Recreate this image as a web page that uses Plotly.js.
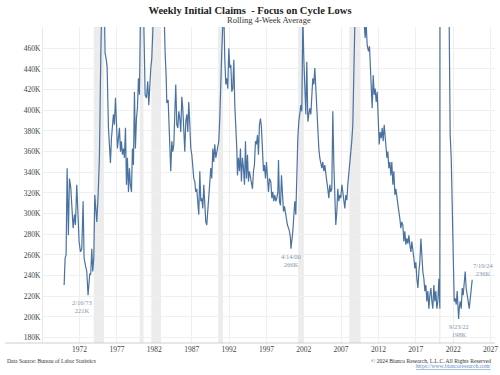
<!DOCTYPE html>
<html>
<head>
<meta charset="utf-8">
<script src="https://cdn.plot.ly/plotly-3.0.1.min.js"></script>
<style>html,body{margin:0;padding:0;background:#fff;}#chart{width:500px;height:375px;}</style>
</head>
<body>
<div id="chart"></div>
<script>
// Decimal-year dates and 4-week average initial claims (thousands)
const years = [
1969.93,1970.06,1970.19,1970.33,1970.50,1970.64,1970.82,1970.95,1971.13,1971.31,1971.44,1971.62,1971.75,1971.93,
1972.11,1972.29,1972.47,1972.60,1972.78,1972.96,1973.13,1973.23,1973.36,1973.49,1973.63,1973.76,1973.90,
1974.03,1974.16,1974.30,1974.48,1974.65,1974.83,1974.92,1975.06,1975.24,1975.41,1975.55,1975.68,1975.86,1975.99,
1976.13,1976.26,1976.40,1976.53,1976.66,1976.80,1976.93,1977.06,1977.20,1977.33,1977.47,1977.60,1977.73,1977.87,
1978.00,1978.14,1978.27,1978.40,1978.54,1978.67,1978.80,1978.94,1979.07,1979.21,1979.34,1979.47,1979.61,1979.74,1979.88,
1980.01,1980.14,1980.32,1980.50,1980.63,1980.77,1980.95,1981.12,1981.26,1981.39,1981.53,1981.66,1981.79,
1982.10,1982.40,1982.80,1983.10,1983.31,1983.45,1983.58,1983.67,1983.85,
1984.03,1984.20,1984.34,1984.47,1984.61,1984.74,1984.87,1985.01,1985.14,1985.28,1985.41,1985.54,1985.68,1985.81,1985.94,
1986.08,1986.21,1986.35,1986.48,1986.61,1986.75,1986.88,1987.02,1987.15,1987.28,1987.42,1987.55,1987.68,1987.82,1987.95,
1988.09,1988.22,1988.35,1988.49,1988.62,1988.76,1988.89,1989.02,1989.16,1989.29,1989.42,1989.56,1989.69,1989.83,1989.96,
1990.09,1990.23,1990.36,1990.50,1990.63,1990.76,1990.90,1991.03,1991.17,1991.30,1991.43,1991.57,1991.70,1991.83,1991.97,
1992.10,1992.24,1992.37,1992.50,1992.64,1992.77,1992.91,1993.04,1993.13,1993.26,1993.40,1993.53,1993.66,1993.80,1993.93,
1994.07,1994.20,1994.33,1994.47,1994.60,1994.73,1994.87,1995.00,1995.14,1995.27,1995.40,1995.54,1995.67,1995.81,1995.94,
1996.07,1996.21,1996.34,1996.47,1996.61,1996.74,1996.88,1997.01,1997.14,1997.28,1997.41,1997.59,1997.73,1997.86,1997.99,
1998.13,1998.26,1998.40,1998.53,1998.62,1998.75,1998.89,1999.02,1999.15,1999.29,1999.42,1999.56,1999.69,1999.82,1999.96,
2000.09,2000.22,2000.29,2000.54,2000.67,2000.80,2000.94,2001.07,2001.21,2001.34,2001.47,2001.61,2001.74,2001.88,
2002.01,2002.14,2002.28,2002.41,2002.55,2002.68,2002.81,2002.95,2003.08,2003.21,2003.35,2003.48,2003.62,2003.75,2003.88,
2004.02,2004.15,2004.29,2004.42,2004.55,2004.69,2004.82,2004.95,2005.09,2005.22,2005.36,2005.49,2005.62,2005.76,2005.89,
2006.03,2006.16,2006.29,2006.43,2006.56,2006.69,2006.83,2006.96,2007.10,2007.23,2007.36,2007.50,2007.63,2007.77,2007.90,
2008.03,2008.17,2008.30,2008.43,2008.57,2008.70,2008.84,2009.10,2009.30,2009.60,2009.90,
2010.04,2010.22,2010.35,2010.49,2010.67,2010.80,2010.89,2011.03,2011.16,2011.30,2011.43,2011.56,2011.70,2011.83,2011.97,
2012.10,2012.23,2012.37,2012.50,2012.63,2012.77,2012.90,2012.99,2013.13,2013.26,2013.39,2013.53,2013.66,2013.79,2013.93,
2014.06,2014.20,2014.33,2014.46,2014.60,2014.73,2014.87,2015.00,2015.13,2015.27,2015.40,2015.53,2015.67,2015.80,2015.94,
2016.07,2016.20,2016.34,2016.47,2016.61,2016.74,2016.87,2017.01,2017.14,2017.28,2017.41,2017.54,2017.68,2017.81,2017.94,
2018.08,2018.21,2018.35,2018.48,2018.61,2018.75,2018.88,2019.02,2019.15,2019.28,2019.42,2019.55,2019.68,2019.82,2019.95,
2020.09,2020.22,2020.28,2020.40,2020.70,2021.00,2021.30,2021.46,2021.60,2021.74,2021.87,
2022.00,2022.14,2022.27,2022.41,2022.54,2022.73,2022.81,2022.94,2023.08,2023.21,2023.34,2023.48,2023.61,2023.74,2023.88,
2024.01,2024.15,2024.28,2024.41,2024.55
];
const claims = [
231,257,260,344,279,334,325,308,286,299,289,328,302,273,
263,266,312,257,250,244,221,234,242,241,266,244,257,
318,305,292,318,354,450,500,540,530,455,450,442,383,371,
349,373,389,396,386,412,389,363,373,383,360,370,357,363,
354,383,328,354,321,344,328,321,363,347,418,363,392,402,431,
415,490,600,520,440,415,412,428,405,425,441,450,500,
560,590,640,540,500,455,434,407,410,
370,341,370,360,367,399,425,386,383,399,392,379,413,402,386,
360,389,396,379,408,386,363,357,341,334,331,321,324,308,299,
341,312,315,305,328,308,292,289,302,321,328,344,334,363,350,
367,354,360,367,370,392,441,457,485,495,450,425,431,421,460,
441,444,418,421,449,405,386,363,337,354,341,363,331,354,344,
328,370,334,357,331,341,334,328,324,341,347,370,367,376,357,
386,392,383,360,341,347,334,350,331,321,334,331,315,321,312,
318,312,315,321,352,312,308,337,312,302,307,299,292,289,286,
283,276,266,283,302,312,299,344,373,389,396,405,399,490,
450,412,396,447,389,396,402,396,412,431,425,441,421,399,379,
363,354,350,344,350,341,347,337,331,324,315,328,321,324,399,
347,318,289,302,324,312,318,315,328,321,315,305,318,313,328,
341,354,360,370,386,434,490,600,650,580,500,
490,470,485,463,457,462,444,428,402,434,415,421,408,418,386,
367,379,373,383,370,386,373,360,354,360,344,350,337,350,328,
341,318,324,315,308,302,295,286,292,289,273,283,270,276,271,
279,270,263,273,260,257,247,253,237,228,244,253,276,250,244,
237,225,231,215,225,208,221,228,215,208,231,215,225,208,215,
237,208,3000,4000,900,800,650,490,376,354,295,
241,215,218,212,225,198,208,215,208,228,221,237,244,228,218,
215,208,218,228,236
];
// Recession shading periods (decimal years)
const recStart = [1973.90, 1980.05, 1981.60, 1990.55, 2001.25, 2008.10, 2020.12];
const recEnd   = [1975.25, 1980.55, 1982.90, 1991.20, 2002.00, 2009.60, 2020.30];
// Tick labels
const xTicks = [1967, 1972, 1977, 1982, 1987, 1992, 1997, 2002, 2007, 2012, 2017, 2022, 2027];
const xTickText = ['', '1972', '1977', '1982', '1987', '1992', '1997', '2002', '2007', '2012', '2017', '2022', '2027'];
const yTicks = [180, 200, 220, 240, 260, 280, 300, 320, 340, 360, 380, 400, 420, 440, 460, 480];
const yTickText = ['180K','200K','220K','240K','260K','280K','300K','320K','340K','360K','380K','400K','420K','440K','460K',''];
// Labelled cycle lows
const lowYears = [1973.13, 2000.29, 2022.73];
const lowValues = [221, 266, 198];
const lowLabels = ['2/16/73<br>221K', '4/14/00<br>266K', '9/23/22<br>198K'];
const lastLabel = '7/19/24<br>236K';

const serif = 'Liberation Serif, DejaVu Serif, serif';
const lineColor = '#4a72a0';
const labelColor = '#7f96b2';

const shapes = recStart.map((s, i) => ({
  type: 'rect', xref: 'x', yref: 'paper', x0: s, x1: recEnd[i], y0: 0, y1: 1,
  fillcolor: '#ececec', line: {width: 0}, layer: 'below'
}));
shapes.push({type: 'line', xref: 'paper', yref: 'paper', x0: -0.084, x1: 1, y0: 0, y1: 0,
  line: {color: '#cfcfcf', width: 1}});

const annotations = [];
const lowShift = [-6, 0, 0];
lowYears.forEach((yr, i) => {
  annotations.push({x: yr, y: lowValues[i], xref: 'x', yref: 'y', text: lowLabels[i],
    showarrow: false, xanchor: 'center', yanchor: 'top', xshift: lowShift[i], yshift: -2,
    font: {family: serif, size: 6.5, color: labelColor}});
});
annotations.push({x: years[years.length - 1], y: claims[claims.length - 1], xref: 'x', yref: 'y',
  text: lastLabel, showarrow: false, xanchor: 'left', yanchor: 'bottom', xshift: -1, yshift: 1,
  font: {family: serif, size: 6.5, color: labelColor}});
annotations.push({xref: 'paper', yref: 'paper', x: 0.5, y: 1.0222, yanchor: 'middle', xanchor: 'center',
  text: 'Rolling 4-Week Average', showarrow: false, font: {family: serif, size: 8.5, color: '#333'}});
annotations.push({xref: 'paper', yref: 'paper', x: -0.084, y: -0.056, xanchor: 'left', yanchor: 'middle',
  text: 'Data Source: Bureau of Labor Statistics', showarrow: false, font: {family: serif, size: 5.6, color: '#333'}});
annotations.push({xref: 'paper', yref: 'paper', x: 0.9956, y: -0.056, xanchor: 'right', yanchor: 'middle',
  text: '© 2024 Bianco Research, L.L.C. All Rights Reserved', showarrow: false, font: {family: serif, size: 5.6, color: '#333'}});
annotations.push({xref: 'paper', yref: 'paper', x: 0.9956, y: -0.073, xanchor: 'right', yanchor: 'middle',
  text: '<span style="text-decoration:underline">https://www.biancoresearch.com/</span>', showarrow: false, font: {family: serif, size: 5.6, color: '#5b8fc7'}});

const trace = {
  x: years, y: claims, type: 'scatter', mode: 'lines',
  line: {color: lineColor, width: 1.2}, hoverinfo: 'skip'
};

const layout = {
  width: 500, height: 375,
  margin: {l: 43, r: 5, t: 27, b: 32},
  paper_bgcolor: '#fff', plot_bgcolor: '#fff',
  showlegend: false,
  title: {text: '<b>Weekly Initial Claims  - Focus on Cycle Lows</b>', x: 0.5, xref: 'container',
    y: 1 - 10.5 / 375, yref: 'container', yanchor: 'middle', xanchor: 'center',
    font: {family: serif, size: 10.5, color: '#222'}},
  xaxis: {range: [1967.1, 2027.6], tickmode: 'array', tickvals: xTicks, ticktext: xTickText,
    showgrid: true, gridcolor: '#efefef', gridwidth: 1, zeroline: false, showline: false, ticks: '',
    tickfont: {family: serif, size: 7.5, color: '#444'}},
  yaxis: {range: [174.8, 480.6], tickmode: 'array', tickvals: yTicks, ticktext: yTickText,
    showgrid: true, gridcolor: '#efefef', gridwidth: 1, zeroline: false, showline: true, linecolor: '#e8e8e8', ticks: '',
    tickfont: {family: serif, size: 7.5, color: '#444'}},
  shapes: shapes,
  annotations: annotations
};

Plotly.newPlot('chart', [trace], layout, {displayModeBar: false, staticPlot: true});
</script>
</body>
</html>
